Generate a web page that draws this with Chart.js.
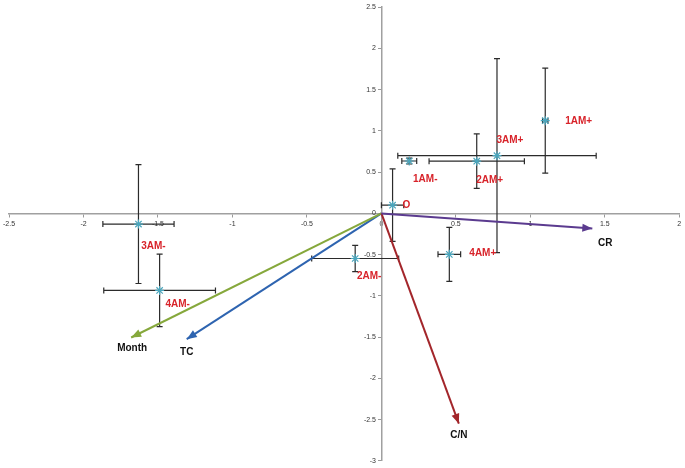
<!DOCTYPE html>
<html>
<head>
<meta charset="utf-8">
<title>Ordination biplot</title>
<script src="https://cdn.jsdelivr.net/npm/chart.js"></script>
<style>
  html, body { margin: 0; padding: 0; background: #ffffff; }
  .chart-box { width: 685px; height: 468px; }
</style>
</head>
<body>
<div class="chart-box"><canvas id="biplot"></canvas></div>
<script>
// group scores (means) with +/- error
const groups = ['O', '1AM-', '2AM+', '3AM+', '1AM+', '3AM-', '4AM-', '2AM-', '4AM+'];
const scoreX = [0.075, 0.187, 0.64, 0.776, 1.10, -1.631, -1.489, -0.176, 0.456];
const scoreY = [0.10, 0.635, 0.633, 0.70, 1.124, -0.13, -0.934, -0.547, -0.497];
const errX = [0.075, 0.05, 0.32, 0.666, 0.018, 0.239, 0.375, 0.292, 0.076];
const errY = [0.44, 0.036, 0.33, 1.176, 0.637, 0.72, 0.44, 0.16, 0.327];

// variable vectors
const variables = ['CR', 'C/N', 'Month', 'TC'];
const vecX = [1.416, 0.52, -1.68, -1.307];
const vecY = [-0.183, -2.55, -1.505, -1.525];
const vecColors = ['#5b3b8f', '#a3262b', '#86a83c', '#2e64b0'];

// axis ticks
const xTicks = [-2.5, -2, -1.5, -1, -0.5, 0, 0.5, 1, 1.5, 2];
const yTicks = [-3, -2.5, -2, -1.5, -1, -0.5, 0, 0.5, 1, 1.5, 2, 2.5];

// label placement (pixels from the point)
const groupLabelOffset = [[10, 0, 'left'], [16, 18, 'center'], [13, 19, 'center'], [13, -15, 'center'],
  [20, 1, 'left'], [15, 22, 'center'], [18, 14, 'center'], [14, 18, 'center'], [20, -1, 'left']];
const vecLabelOffset = [[13, 15], [0, 12], [1, 11], [0, 13]];

const pointData = groups.map((g, i) => ({ x: scoreX[i], y: scoreY[i] }));

const datasets = variables.map((v, i) => ({
  type: 'scatter',
  data: [{ x: 0, y: 0 }, { x: vecX[i], y: vecY[i] }],
  showLine: true,
  borderColor: vecColors[i],
  borderWidth: 2,
  pointRadius: 0,
  order: 2
}));
datasets.push({
  type: 'scatter',
  data: pointData,
  pointStyle: 'star',
  pointRadius: 4.5,
  borderColor: '#4aa6bd',
  backgroundColor: '#4aa6bd',
  borderWidth: 1.2,
  order: 1
});

const errorBars = {
  id: 'errorBars',
  beforeDatasetsDraw(chart) {
    const { ctx, scales: { x, y } } = chart;
    const cap = 3;
    ctx.save();
    ctx.strokeStyle = '#2b2b2b';
    ctx.lineWidth = 1.2;
    groups.forEach((g, i) => {
      const px = x.getPixelForValue(scoreX[i]);
      const py = y.getPixelForValue(scoreY[i]);
      const x1 = x.getPixelForValue(scoreX[i] - errX[i]);
      const x2 = x.getPixelForValue(scoreX[i] + errX[i]);
      const y1 = y.getPixelForValue(scoreY[i] + errY[i]);
      const y2 = y.getPixelForValue(scoreY[i] - errY[i]);
      ctx.beginPath();
      ctx.moveTo(x1, py); ctx.lineTo(x2, py);
      ctx.moveTo(x1, py - cap); ctx.lineTo(x1, py + cap);
      ctx.moveTo(x2, py - cap); ctx.lineTo(x2, py + cap);
      ctx.moveTo(px, y1); ctx.lineTo(px, y2);
      ctx.moveTo(px - cap, y1); ctx.lineTo(px + cap, y1);
      ctx.moveTo(px - cap, y2); ctx.lineTo(px + cap, y2);
      ctx.stroke();
    });
    ctx.restore();
  }
};

const arrowsAndLabels = {
  id: 'arrowsAndLabels',
  afterDatasetsDraw(chart) {
    const { ctx, scales: { x, y } } = chart;
    ctx.save();
    // arrow heads
    variables.forEach((v, i) => {
      const x0 = x.getPixelForValue(0), y0 = y.getPixelForValue(0);
      const tx = x.getPixelForValue(vecX[i]), ty = y.getPixelForValue(vecY[i]);
      const a = Math.atan2(ty - y0, tx - x0);
      const len = 10, half = 4;
      ctx.fillStyle = vecColors[i];
      ctx.beginPath();
      ctx.moveTo(tx, ty);
      ctx.lineTo(tx - len * Math.cos(a) + half * Math.sin(a), ty - len * Math.sin(a) - half * Math.cos(a));
      ctx.lineTo(tx - len * Math.cos(a) - half * Math.sin(a), ty - len * Math.sin(a) + half * Math.cos(a));
      ctx.closePath();
      ctx.fill();
      ctx.font = 'bold 10px "Liberation Sans", Arial, sans-serif';
      ctx.fillStyle = '#111111';
      ctx.textAlign = 'center';
      ctx.textBaseline = 'middle';
      ctx.fillText(v, tx + vecLabelOffset[i][0], ty + vecLabelOffset[i][1]);
    });
    // group labels
    ctx.font = 'bold 10px "Liberation Sans", Arial, sans-serif';
    ctx.fillStyle = '#d8232a';
    ctx.textBaseline = 'middle';
    groups.forEach((g, i) => {
      const px = x.getPixelForValue(scoreX[i]);
      const py = y.getPixelForValue(scoreY[i]);
      const [dx, dy, al] = groupLabelOffset[i];
      ctx.textAlign = al;
      ctx.fillText(g, px + dx, py + dy);
    });
    ctx.restore();
  }
};

const tickFont = { size: 7, family: '"Liberation Sans", Arial, sans-serif' };
const gridStyle = { drawOnChartArea: false, drawTicks: true, tickLength: 3, color: '#9a9a9a' };
const borderStyle = { color: '#a0a0a0', width: 1.5 };

new Chart(document.getElementById('biplot'), {
  type: 'scatter',
  data: { datasets },
  options: {
    responsive: true,
    maintainAspectRatio: false,
    animation: false,
    layout: { padding: { left: 7, right: 2, top: 5, bottom: 4 } },
    scales: {
      x: {
        grid: gridStyle,
        border: borderStyle,
        ticks: { font: tickFont, color: '#333333', padding: 3, callback: v => String(v) },
        min: -2.5, max: 2,
        position: { y: 0 },
        afterBuildTicks: s => { s.ticks = xTicks.map(v => ({ value: v })); }
      },
      y: {
        grid: gridStyle,
        border: borderStyle,
        // labels of a centred y axis sit flush on the line, so pad them with spaces
        ticks: { font: tickFont, color: '#333333', callback: v => String(v) + '\u2002 ' },
        min: -3, max: 2.5,
        position: { x: 0 },
        afterBuildTicks: s => { s.ticks = yTicks.map(v => ({ value: v })); }
      }
    },
    plugins: { legend: { display: false }, tooltip: { enabled: false } }
  },
  plugins: [errorBars, arrowsAndLabels]
});
</script>
</body>
</html>
